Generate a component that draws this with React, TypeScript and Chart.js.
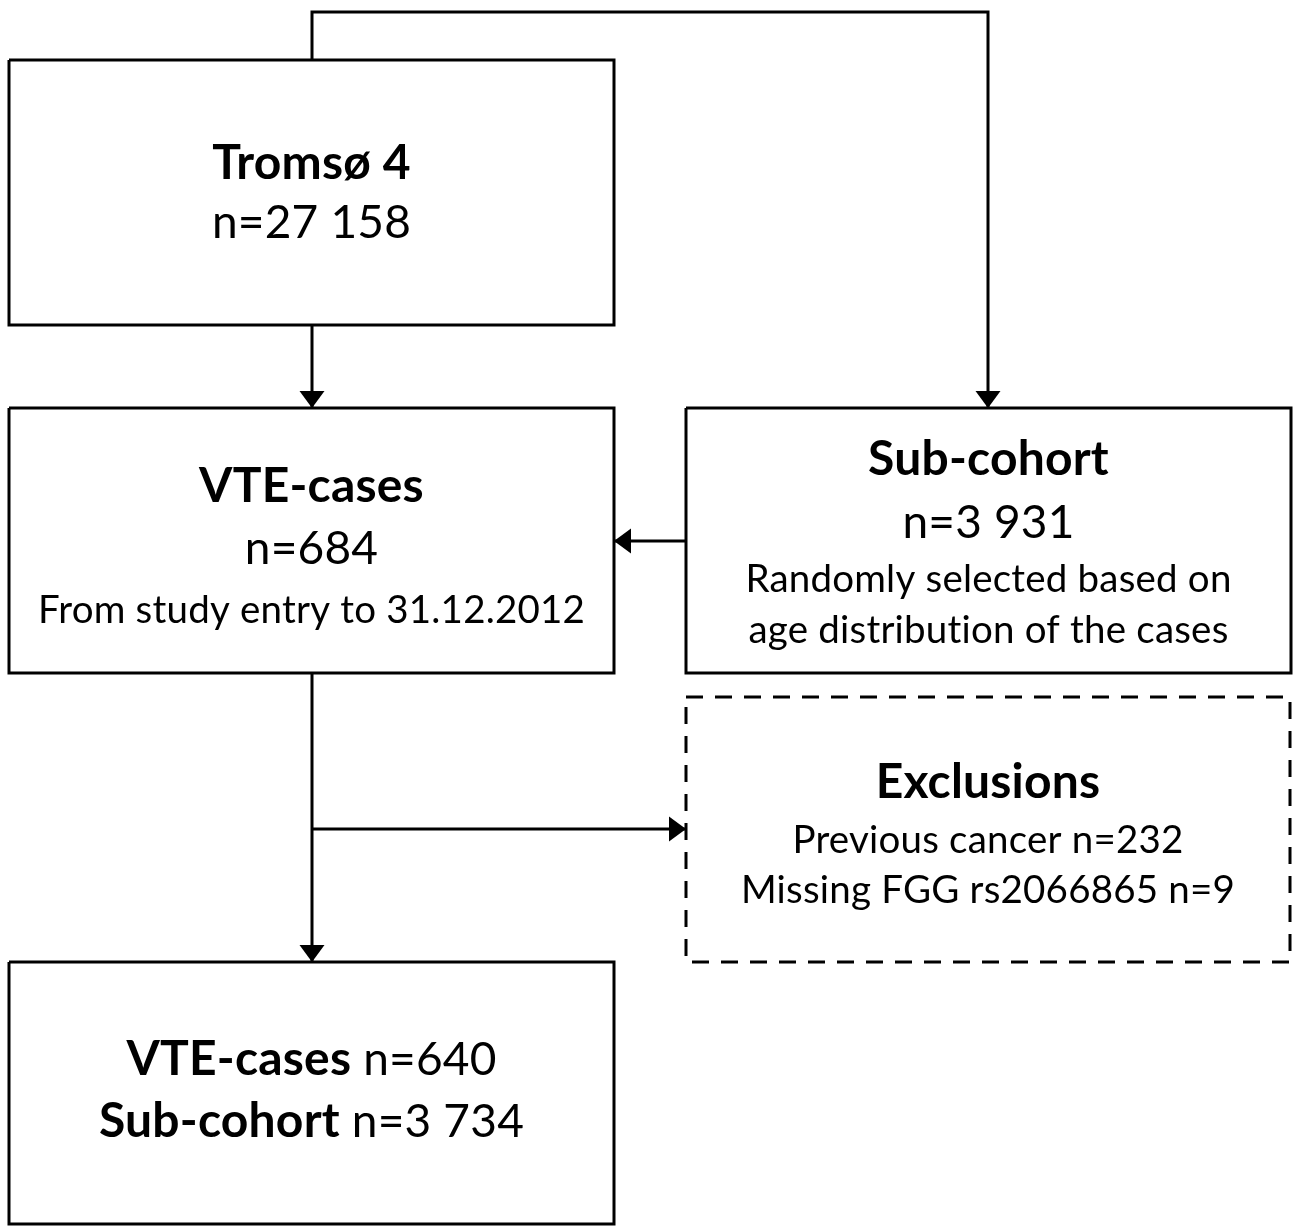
import React, { useEffect, useRef } from "react";
import { Chart, registerables } from "chart.js";

Chart.register(...registerables);

const W = 1294;
const H = 1226;

// Flowchart boxes (in page units)
const boxLeft = [9, 9, 686, 686, 9];
const boxTop = [60, 408, 408, 697, 962];
const boxRight = [614, 614, 1291, 1290, 614];
const boxBottom = [325, 673, 673, 962, 1224];
const boxDashed = [false, false, false, true, false];

// Connectors: polylines, arrow head at the last point
const connectorX = [
  [312, 312, 988, 988],
  [312, 312],
  [686, 614],
  [312, 312],
  [312, 686],
];
const connectorY = [
  [60, 12, 12, 408],
  [325, 408],
  [541, 541],
  [673, 962],
  [829, 829],
];

// Text lines: box index, runs [text, bold], baseline, size class
const textBox = [0, 0, 1, 1, 1, 2, 2, 2, 2, 3, 3, 3, 4, 4];
const textRuns: [string, boolean][][] = [
  [["Tromsø 4", true]],
  [["n=27 158", false]],
  [["VTE-cases", true]],
  [["n=684", false]],
  [["From study entry to 31.12.2012", false]],
  [["Sub-cohort", true]],
  [["n=3 931", false]],
  [["Randomly selected based on", false]],
  [["age distribution of the cases", false]],
  [["Exclusions", true]],
  [["Previous cancer n=232", false]],
  [["Missing FGG rs2066865 n=9", false]],
  [["VTE-cases", true], [" n=640", false]],
  [["Sub-cohort", true], [" n=3 734", false]],
];
const textBaseline = [179, 238, 502, 564, 623, 475, 538, 592, 643, 798, 853, 903, 1075, 1137];
const textLarge = [true, true, true, true, false, true, true, false, false, true, false, false, true, true];

const FONT = "Lato, 'Noto Sans', sans-serif";
const LARGE_BOLD = 48;
const LARGE = 46;
const SMALL = 38.5;

export default function App() {
  const ref = useRef<HTMLCanvasElement | null>(null);

  useEffect(() => {
    const canvas = ref.current;
    if (!canvas) return;

    const datasets: any[] = [];
    boxLeft.forEach((l, i) => {
      const r = boxRight[i];
      const t = boxTop[i];
      const b = boxBottom[i];
      datasets.push({
        data: [
          { x: l, y: t },
          { x: r, y: t },
          { x: r, y: b },
          { x: l, y: b },
          { x: l, y: t },
        ],
        showLine: true,
        borderColor: "#000",
        borderWidth: 3,
        borderDash: boxDashed[i] ? [17, 12] : [],
        borderJoinStyle: "miter",
        borderCapStyle: "butt",
        pointRadius: 0,
        fill: false,
        tension: 0,
        clip: false,
      });
    });
    connectorX.forEach((xs, i) => {
      datasets.push({
        data: xs.map((x, j) => ({ x, y: connectorY[i][j] })),
        showLine: true,
        borderColor: "#000",
        borderWidth: 3,
        borderJoinStyle: "miter",
        borderCapStyle: "butt",
        pointRadius: 0,
        fill: false,
        tension: 0,
        clip: false,
      });
    });

    const fontFor = (bold: boolean, large: boolean) => {
      const size = large ? (bold ? LARGE_BOLD : LARGE) : SMALL;
      return `${bold ? "bold " : ""}${size}px ${FONT}`;
    };

    const overlay = {
      id: "flowOverlay",
      afterDatasetsDraw(chart: any) {
        const ctx = chart.ctx;
        const sx = chart.scales.x;
        const sy = chart.scales.y;
        ctx.save();
        // arrow heads
        ctx.fillStyle = "#000";
        connectorX.forEach((xs, i) => {
          const ys = connectorY[i];
          const n = xs.length;
          const x1 = sx.getPixelForValue(xs[n - 2]);
          const y1 = sy.getPixelForValue(ys[n - 2]);
          const x2 = sx.getPixelForValue(xs[n - 1]);
          const y2 = sy.getPixelForValue(ys[n - 1]);
          const len = Math.hypot(x2 - x1, y2 - y1) || 1;
          const dx = (x2 - x1) / len;
          const dy = (y2 - y1) / len;
          const L = 17;
          const hw = 12.5;
          const bx = x2 - dx * L;
          const by = y2 - dy * L;
          ctx.beginPath();
          ctx.moveTo(x2, y2);
          ctx.lineTo(bx - dy * hw, by + dx * hw);
          ctx.lineTo(bx + dy * hw, by - dx * hw);
          ctx.closePath();
          ctx.fill();
        });
        // text
        ctx.textBaseline = "alphabetic";
        ctx.textAlign = "left";
        try {
          (ctx as any).letterSpacing = "0.2px";
        } catch (e) {
          /* ignore */
        }
        textRuns.forEach((runs, i) => {
          const bi = textBox[i];
          const cx = sx.getPixelForValue((boxLeft[bi] + boxRight[bi]) / 2);
          const by = sy.getPixelForValue(textBaseline[i]);
          const widths = runs.map(([t, b]) => {
            ctx.font = fontFor(b, textLarge[i]);
            return ctx.measureText(t).width;
          });
          const total = widths.reduce((a, v) => a + v, 0);
          let x = cx - total / 2;
          runs.forEach(([t, b], k) => {
            ctx.font = fontFor(b, textLarge[i]);
            ctx.fillText(t, x, by);
            x += widths[k];
          });
        });
        ctx.restore();
      },
    };

    const chart = new Chart(canvas, {
      type: "scatter",
      data: { datasets },
      options: {
        animation: false,
        responsive: false,
        maintainAspectRatio: false,
        layout: { padding: 0 },
        events: [],
        plugins: { legend: { display: false }, tooltip: { enabled: false } },
        scales: {
          x: { type: "linear", min: 0, max: W, display: false },
          y: { type: "linear", min: 0, max: H, reverse: true, display: false },
        },
      },
      plugins: [overlay],
    });
    return () => chart.destroy();
  }, []);

  return (
    <div style={{ position: "fixed", left: 0, top: 0, width: W, height: H, background: "#fff" }}>
      <canvas ref={ref} width={W} height={H} style={{ width: W, height: H, display: "block" }} />
    </div>
  );
}
